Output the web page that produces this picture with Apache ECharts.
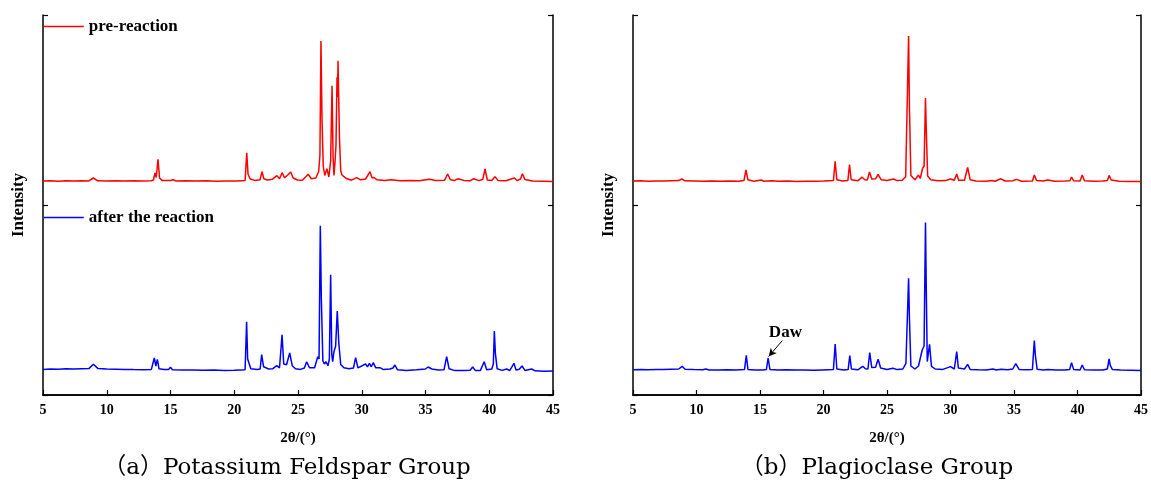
<!DOCTYPE html>
<html>
<head>
<meta charset="utf-8">
<script src="https://cdn.jsdelivr.net/npm/echarts@6/dist/echarts.min.js"></script>
<style>
  html, body { margin: 0; padding: 0; background: #fff; }
  #chart { width: 1151px; height: 482px; }
</style>
</head>
<body>
<div id="chart"></div>
<script>
// XRD patterns, [2θ (°), intensity (counts)]
const preK = [[5.0,60],[5.6,63],[6.2,58],[6.8,62],[7.4,60],[8.0,63],[8.6,61],[8.95,90],[9.3,62],[10.0,60],[10.7,63],[11.4,59],[12.1,62],[12.8,60],[13.5,63],[13.66,70],[13.78,140],[13.88,95],[14.02,277],[14.14,90],[14.35,64],[15.0,66],[15.2,72],[15.45,60],[16.2,62],[17.0,59],[17.8,62],[18.6,58],[19.4,61],[20.2,60],[20.85,64],[20.98,343],[21.08,130],[21.25,80],[21.6,66],[22.02,72],[22.18,153],[22.32,82],[22.6,70],[23.0,78],[23.35,113],[23.55,82],[23.75,143],[23.95,92],[24.2,120],[24.3,105],[24.43,150],[24.62,90],[24.95,70],[25.35,68],[25.8,127],[26.05,82],[26.4,90],[26.62,153],[26.72,320],[26.8,1460],[26.88,700],[26.98,210],[27.1,115],[27.27,183],[27.42,100],[27.56,260],[27.67,1013],[27.75,310],[27.82,115],[27.9,240],[27.98,420],[28.06,1097],[28.1,900],[28.14,1263],[28.25,503],[28.35,160],[28.45,120],[28.75,88],[29.2,68],[29.6,93],[29.9,72],[30.3,80],[30.65,153],[30.8,92],[30.96,95],[31.2,72],[31.8,66],[32.3,72],[33.0,62],[33.8,65],[34.5,62],[35.3,77],[35.8,66],[36.5,68],[36.74,130],[36.95,72],[37.3,66],[37.55,83],[38.0,66],[38.5,62],[38.78,83],[39.2,64],[39.5,78],[39.67,180],[39.85,70],[40.2,66],[40.45,103],[40.7,64],[41.3,62],[41.97,90],[42.2,64],[42.45,80],[42.6,133],[42.8,74],[43.4,60],[44.2,58],[45.0,56]];

const afterK = [[5.0,66],[5.6,70],[6.2,67],[6.8,72],[7.4,70],[8.0,73],[8.6,74],[8.95,117],[9.3,76],[10.0,70],[10.7,68],[11.4,66],[12.1,64],[12.8,63],[13.5,66],[13.62,80],[13.73,180],[13.85,100],[13.97,167],[14.1,72],[14.5,64],[14.85,64],[15.0,87],[15.15,62],[16.0,60],[16.8,59],[17.6,58],[18.4,60],[19.2,56],[20.0,58],[20.85,62],[20.97,543],[21.05,170],[21.12,160],[21.3,72],[21.8,64],[22.03,70],[22.15,213],[22.3,92],[22.45,103],[22.7,70],[23.0,72],[23.33,103],[23.55,82],[23.65,100],[23.75,413],[23.88,120],[24.1,112],[24.35,230],[24.55,102],[24.8,72],[25.2,66],[25.5,80],[25.68,143],[25.9,82],[26.3,82],[26.55,193],[26.65,170],[26.75,1503],[26.83,780],[26.95,150],[27.07,120],[27.2,143],[27.35,102],[27.46,170],[27.56,1013],[27.65,210],[27.72,143],[27.82,243],[27.95,300],[28.08,650],[28.2,330],[28.35,115],[28.6,82],[29.0,72],[29.35,80],[29.52,183],[29.7,82],[30.04,103],[30.15,90],[30.3,120],[30.45,92],[30.6,127],[30.75,92],[30.9,133],[31.1,82],[31.43,83],[31.7,64],[32.2,70],[32.45,80],[32.6,110],[32.8,62],[33.5,56],[34.3,62],[35.0,70],[35.2,90],[35.5,70],[36.0,60],[36.45,62],[36.66,193],[36.85,72],[37.3,54],[38.0,56],[38.5,58],[38.7,90],[38.9,56],[39.3,54],[39.45,70],[39.6,143],[39.8,62],[40.2,70],[40.32,120],[40.4,450],[40.48,227],[40.62,72],[41.0,56],[41.37,70],[41.6,54],[41.94,127],[42.1,60],[42.35,68],[42.57,100],[42.8,56],[43.33,70],[43.6,52],[44.3,48],[45.0,50]];

const prePl = [[5.0,60],[5.6,62],[6.2,58],[6.8,61],[7.4,59],[8.0,62],[8.6,64],[8.84,80],[9.1,62],[9.8,60],[10.5,58],[11.2,61],[11.9,57],[12.6,59],[13.3,58],[13.74,64],[13.89,170],[14.05,72],[14.5,58],[15.1,70],[15.3,57],[15.88,62],[16.5,57],[17.2,59],[17.9,56],[18.6,58],[19.3,57],[20.0,60],[20.78,64],[20.92,257],[21.05,72],[21.5,60],[21.92,64],[22.05,225],[22.18,72],[22.7,62],[23.04,98],[23.25,72],[23.45,70],[23.62,150],[23.8,80],[24.1,82],[24.3,125],[24.55,72],[25.0,64],[25.5,80],[25.8,64],[26.2,68],[26.47,103],[26.6,115],[26.7,1510],[26.77,775],[26.88,115],[27.2,72],[27.48,120],[27.62,85],[27.8,185],[27.92,210],[28.03,890],[28.12,450],[28.2,110],[28.3,130],[28.45,72],[29.0,62],[29.6,64],[30.0,80],[30.3,68],[30.49,130],[30.65,68],[31.1,68],[31.35,195],[31.55,72],[32.0,60],[32.8,58],[33.26,66],[33.5,58],[33.97,82],[34.3,60],[34.9,62],[35.2,76],[35.6,58],[36.45,60],[36.6,120],[36.78,64],[37.3,60],[37.65,70],[38.2,58],[39.0,60],[39.4,62],[39.53,100],[39.7,62],[40.2,60],[40.37,120],[40.55,62],[41.3,58],[42.0,60],[42.35,64],[42.49,116],[42.65,70],[43.3,58],[44.1,56],[45.0,54]];

const afterPl = [[5.0,62],[5.6,64],[6.2,62],[6.8,66],[7.4,64],[8.0,68],[8.6,70],[8.87,97],[9.1,68],[9.8,64],[10.5,62],[10.73,70],[11.0,61],[11.7,60],[12.4,62],[13.1,60],[13.78,64],[13.92,207],[14.05,66],[14.6,60],[15.2,60],[15.5,64],[15.64,180],[15.78,66],[16.4,60],[17.1,62],[17.8,59],[18.5,60],[19.2,58],[19.9,61],[20.78,64],[20.92,320],[21.05,70],[21.6,60],[21.94,64],[22.07,203],[22.2,70],[22.7,62],[23.09,97],[23.3,72],[23.5,70],[23.64,233],[23.8,84],[24.1,88],[24.3,167],[24.5,80],[25.0,64],[25.47,77],[25.8,64],[26.25,70],[26.49,127],[26.6,120],[26.7,977],[26.77,560],[26.88,100],[27.2,70],[27.48,100],[27.62,90],[27.77,260],[27.92,300],[28.03,1534],[28.1,800],[28.17,144],[28.35,317],[28.5,97],[28.8,70],[29.4,66],[30.0,94],[30.3,70],[30.49,244],[30.62,80],[31.1,70],[31.35,117],[31.55,66],[32.2,62],[32.8,60],[33.34,70],[33.6,60],[33.97,67],[34.5,62],[34.9,70],[35.14,124],[35.4,66],[36.0,62],[36.45,66],[36.6,354],[36.68,210],[36.82,68],[37.3,60],[37.65,64],[38.3,60],[39.0,60],[39.38,64],[39.53,134],[39.7,64],[40.2,60],[40.37,110],[40.55,62],[41.3,60],[42.0,60],[42.35,70],[42.49,170],[42.58,107],[42.75,64],[43.4,60],[44.2,58],[45.0,56]];

// vertical offsets used to stack the two scans in each panel
const OFFSET_PRE = 2080;
const OFFSET_AFTER = 190;

const seriesNames = ['pre-reaction', 'after the reaction'];
const panelCaptions = ['（a）Potassium Feldspar Group', '（b）Plagioclase Group'];
const xName = '2θ/(°)';
const yName = 'Intensity';

// Dawsonite reflection marked in the plagioclase scan: [2θ, stacked intensity]
const dawLabel = { text: 'Daw', at: [17.0, 620] };
const dawArrow = { from: [16.76, 545], to: [15.68, 385] };

const shift = (arr, off) => arr.map(p => [p[0], p[1] + off]);

const serif = "'Liberation Serif', 'Times New Roman', serif";
const captionFont = "'DejaVu Serif', 'Noto Sans CJK SC', serif";
const grids = [
  { left: 43, top: 15, width: 510, height: 380 },
  { left: 633, top: 15, width: 510, height: 380 }
];

const axisLine = { show: true, lineStyle: { color: '#000', width: 1.5 } };

function xAxes(gi) {
  return [
    {
      type: 'value', gridIndex: gi, min: 5, max: 45, interval: 5, position: 'bottom',
      axisLine: axisLine,
      axisTick: { show: true, inside: true, length: 5, lineStyle: { color: '#000', width: 1.2 } },
      axisLabel: { color: '#000', fontFamily: serif, fontWeight: 'bold', fontSize: 14, margin: 8 },
      splitLine: { show: false },
      name: xName, nameLocation: 'middle', nameGap: 36,
      nameTextStyle: { color: '#000', fontFamily: serif, fontWeight: 'bold', fontSize: 15 }
    },
    {
      type: 'value', gridIndex: gi, min: 5, max: 45, interval: 5, position: 'top',
      axisLine: axisLine, axisTick: { show: false }, axisLabel: { show: false },
      splitLine: { show: false }
    }
  ];
}

function yAxes(gi) {
  return [
    {
      type: 'value', gridIndex: gi, min: 0, max: 3800, interval: 1900, position: 'left',
      axisLine: axisLine,
      axisTick: { show: true, inside: true, length: 5, lineStyle: { color: '#000', width: 1.2 } },
      axisLabel: { show: false }, splitLine: { show: false },
      name: yName, nameLocation: 'middle', nameGap: 16, nameRotate: 90,
      nameTextStyle: { color: '#000', fontFamily: serif, fontWeight: 'bold', fontSize: 17 }
    },
    {
      type: 'value', gridIndex: gi, min: 0, max: 3800, interval: 1900, position: 'right',
      axisLine: axisLine,
      axisTick: { show: true, inside: true, length: 5, lineStyle: { color: '#000', width: 1.2 } },
      axisLabel: { show: false }, splitLine: { show: false }
    }
  ];
}

function scan(name, data, color, gi) {
  return {
    type: 'line', name: name, data: data,
    xAxisIndex: gi * 2, yAxisIndex: gi * 2,
    symbol: 'none', showSymbol: false, smooth: false,
    lineStyle: { color: color, width: 1.5 }, itemStyle: { color: color },
    animation: false, silent: true
  };
}

const dawSeries = scan(seriesNames[1], shift(afterPl, OFFSET_AFTER), '#0000ff', 1);
dawSeries.markLine = {
  silent: true, animation: false,
  symbol: ['none', 'arrow'], symbolSize: [6, 8],
  lineStyle: { color: '#000', width: 1, type: 'solid' },
  label: { show: false },
  data: [[{ coord: dawArrow.from }, { coord: dawArrow.to }]]
};
dawSeries.markPoint = {
  silent: true, animation: false,
  symbol: 'rect', symbolSize: 1, itemStyle: { color: 'rgba(0,0,0,0)' },
  label: {
    show: true, position: 'inside', formatter: dawLabel.text,
    color: '#000', fontFamily: serif, fontWeight: 'bold', fontSize: 17
  },
  data: [{ coord: dawLabel.at }]
};

const legendText = { color: '#000', fontFamily: serif, fontWeight: 'bold', fontSize: 17 };
const legendBase = {
  left: 43, itemWidth: 40, itemHeight: 14, itemGap: 5, padding: 0,
  textStyle: legendText, selectedMode: false,
  itemStyle: { opacity: 0 }, lineStyle: { width: 1.5 }
};

const option = {
  backgroundColor: '#fff',
  animation: false,
  grid: grids,
  xAxis: [...xAxes(0), ...xAxes(1)],
  yAxis: [...yAxes(0), ...yAxes(1)],
  legend: [
    Object.assign({ data: [seriesNames[0]], top: 18 }, legendBase),
    Object.assign({ data: [seriesNames[1]], top: 209 }, legendBase)
  ],
  title: [
    { text: panelCaptions[0], left: 282, top: 452, textAlign: 'center',
      textStyle: { color: '#000', fontFamily: captionFont, fontWeight: 'normal', fontSize: 23 } },
    { text: panelCaptions[1], left: 872, top: 452, textAlign: 'center',
      textStyle: { color: '#000', fontFamily: captionFont, fontWeight: 'normal', fontSize: 23 } }
  ],
  series: [
    scan(seriesNames[0], shift(preK, OFFSET_PRE), '#ff0000', 0),
    scan(seriesNames[1], shift(afterK, OFFSET_AFTER), '#0000ff', 0),
    scan(seriesNames[0], shift(prePl, OFFSET_PRE), '#ff0000', 1),
    dawSeries
  ]
};

const chart = echarts.init(document.getElementById('chart'), null, { renderer: 'canvas' });
chart.setOption(option);
</script>
</body>
</html>
